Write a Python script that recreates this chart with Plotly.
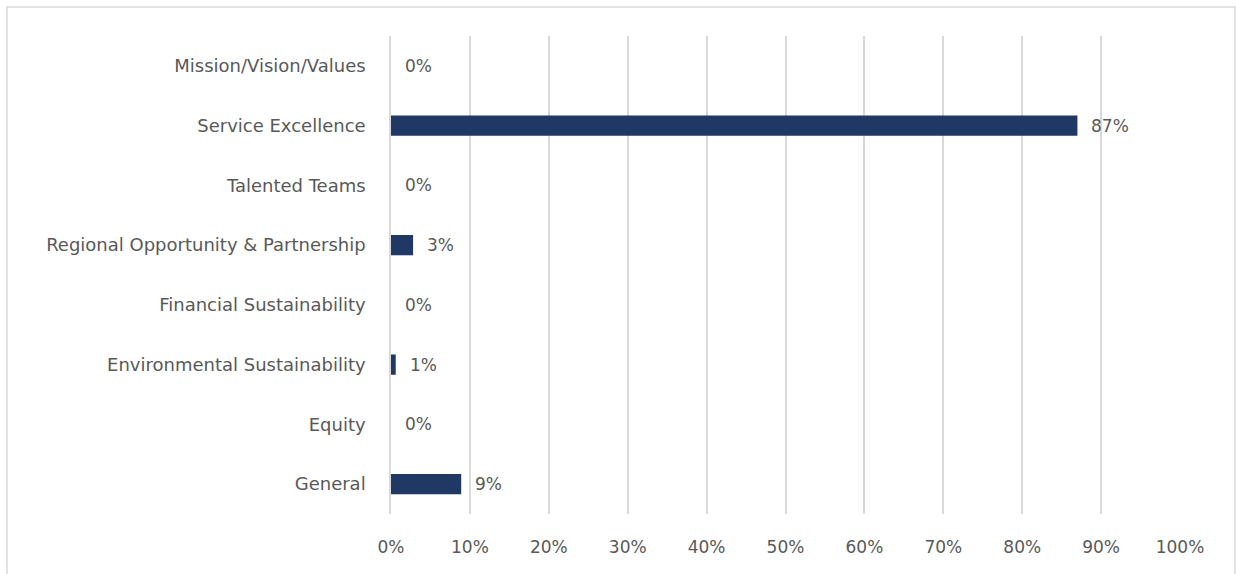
import plotly.graph_objects as go

categories = [
    "Mission/Vision/Values",
    "Service Excellence",
    "Talented Teams",
    "Regional Opportunity & Partnership",
    "Financial Sustainability",
    "Environmental Sustainability",
    "Equity",
    "General",
]
shares = [0.0, 0.87, 0.0, 0.028, 0.0, 0.006, 0.0, 0.089]
x_ticks = [i / 10 for i in range(11)]
x_tick_labels = [f"{i * 10}%" for i in range(11)]

BAR_COLOR = "#203864"
TEXT_COLOR = "#595959"
GRID_COLOR = "#d9d9d9"
FONT = "DejaVu Sans, sans-serif"
CAT_SIZE = 18
NUM_SIZE = 17

fig = go.Figure(
    go.Bar(
        y=categories,
        x=shares,
        orientation="h",
        marker=dict(color=BAR_COLOR, line=dict(width=0)),
        hoverinfo="skip",
    )
)

# value labels just to the right of each bar end
for cat, val in zip(categories, shares):
    fig.add_annotation(
        x=val, y=cat, xref="x", yref="y",
        text=f"{round(val * 100)}%",
        showarrow=False, xanchor="left", yanchor="middle",
        xshift=12,
        font=dict(family=FONT, size=NUM_SIZE, color=TEXT_COLOR),
    )

# light outer frame of the chart area
fig.add_shape(
    type="rect", xref="paper", yref="paper",
    x0=-391 / 789 + 7 / 789, x1=1 + 55 / 789,
    y0=-0.2, y1=1 + 29 / 478,
    line=dict(color="#d9d9d9", width=1.5),
    fillcolor="rgba(0,0,0,0)", layer="below",
)

fig.update_layout(
    width=1236, height=574,
    margin=dict(l=391, r=56, t=36, b=60),
    paper_bgcolor="white", plot_bgcolor="white",
    bargap=0.66,
    showlegend=False,
    font=dict(family=FONT, size=NUM_SIZE, color=TEXT_COLOR),
    xaxis=dict(
        range=[0, 1], tickvals=x_ticks, ticktext=x_tick_labels,
        showgrid=True, gridcolor=GRID_COLOR, gridwidth=1.5,
        zeroline=False, showline=False, ticks="",
        ticklabelstandoff=21,
        tickfont=dict(family=FONT, size=NUM_SIZE, color=TEXT_COLOR),
    ),
    yaxis=dict(
        categoryorder="array", categoryarray=categories,
        autorange="reversed",
        showgrid=False, zeroline=False,
        showline=True, linecolor=GRID_COLOR, linewidth=1.5,
        ticks="",
        ticklabelstandoff=20,
        tickfont=dict(family=FONT, size=CAT_SIZE, color=TEXT_COLOR),
    ),
)

fig.write_html("out.html")
